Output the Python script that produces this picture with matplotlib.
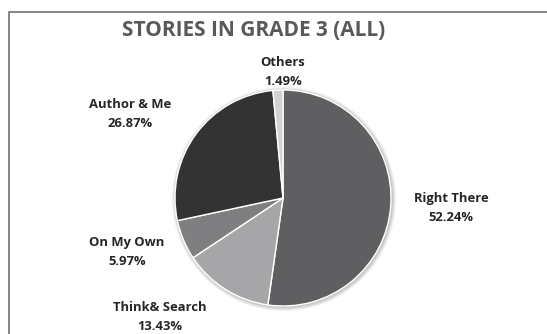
import matplotlib
matplotlib.use("Agg")
import matplotlib.pyplot as plt
from matplotlib.patches import Rectangle, Circle

categories = ["Right There", "Think& Search", "On My Own", "Author & Me", "Others"]
values = [52.24, 13.43, 5.97, 26.87, 1.49]
colors = ["#5f5f61", "#a6a6a8", "#7f7f81", "#333333", "#d2d2d4"]
# label positions in pixel coords (x, y from top)
label_pos = [(451, 208), (160, 317), (127, 252), (130, 114), (283, 72)]

W, H = 547, 334
fig = plt.figure(figsize=(W / 100, H / 100), dpi=100)
ax = fig.add_axes([0, 0, 1, 1])

cx, cy, r = 283, H - 198, 108
# soft shadow
for i, a in enumerate([0.05, 0.05, 0.06, 0.07]):
    ax.add_patch(Circle((cx + 1, cy - 1), r + 4 - i, color="black", alpha=a, lw=0))

ax.pie(values, colors=colors, startangle=90, counterclock=False,
       center=(cx, cy), radius=r, frame=True,
       wedgeprops=dict(edgecolor="white", linewidth=1.0))
ax.set_xlim(0, W)
ax.set_ylim(0, H)
ax.set_aspect("equal")
ax.axis("off")

# frame
ax.add_patch(Rectangle((8.5, -5), W, H - 11.5 + 5, fill=False,
                       edgecolor="#707070", lw=1.2))

font = "Open Sans"
for cat, val, (x, y) in zip(categories, values, label_pos):
    ax.text(x, H - y, f"{cat}\n{val:.2f}%", ha="center", va="center",
            fontsize=9.4, fontweight="bold", color="#262626", family=font,
            linespacing=1.6)

ax.text(254, H - 31, "STORIES IN GRADE 3 (ALL)", ha="center", va="center",
        fontsize=15, fontweight="bold", color="#595959", family=font)

fig.savefig("out.png", dpi=100)
